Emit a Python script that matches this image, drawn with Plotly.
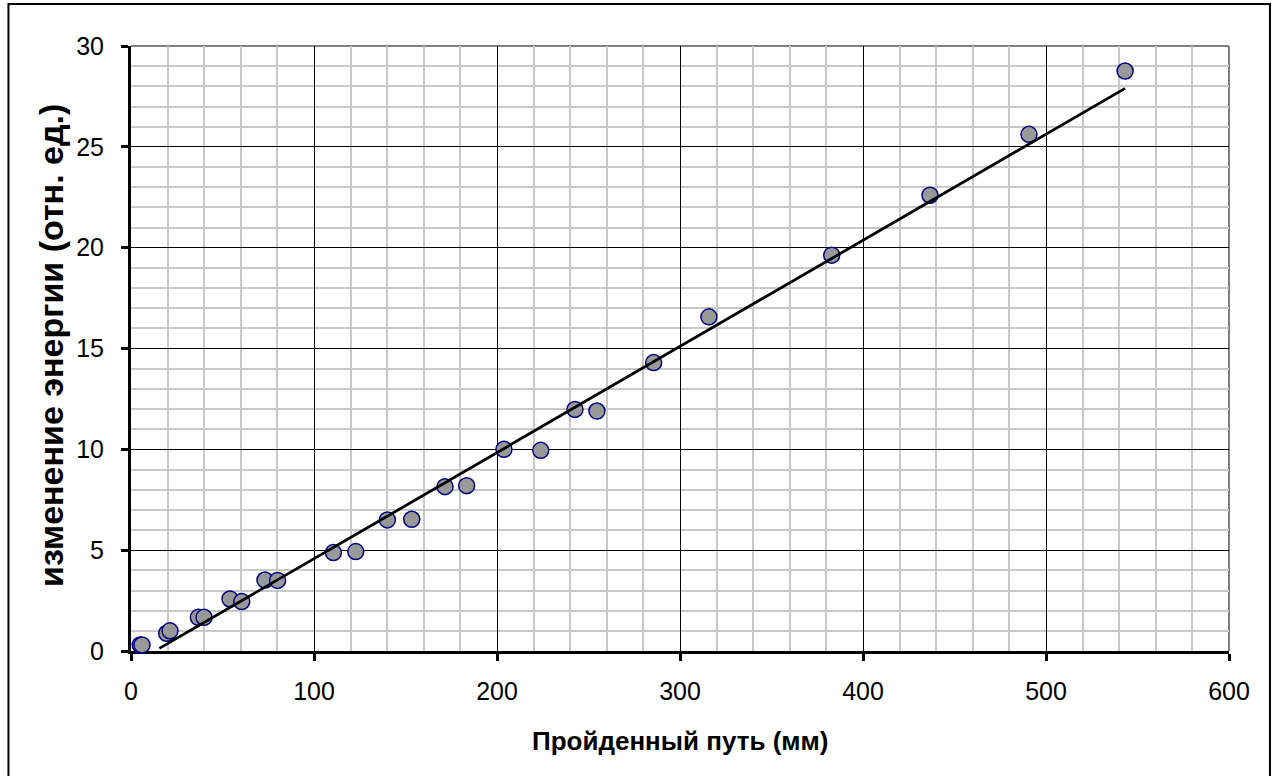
import plotly.graph_objects as go

# Data points (distance mm, energy change rel. units)
path_mm = [5.0, 6.0, 19.5, 21.3, 36.8, 39.9, 54.1, 60.5, 73.2, 80.1,
           110.6, 122.8, 140.1, 153.4, 171.6, 183.4, 203.8, 223.9,
           242.6, 254.6, 285.6, 315.8, 382.9, 436.6, 490.7, 543.2]
energy = [0.3, 0.3, 0.88, 1.0, 1.67, 1.67, 2.58, 2.45, 3.52, 3.5,
          4.88, 4.93, 6.5, 6.53, 8.15, 8.2, 10.0, 9.95,
          11.98, 11.9, 14.3, 16.57, 19.63, 22.6, 25.62, 28.76]

# Linear trend line endpoints
fit_x = [15.5, 543.2]
fit_y = [0.13, 27.9]

x_title = "Пройденный путь (мм)"
y_title = "изменение энергии (отн. ед.)"

FONT = "Liberation Sans, Arial, sans-serif"

fig = go.Figure()
fig.add_trace(go.Scatter(
    x=path_mm, y=energy, mode="markers",
    marker=dict(size=16, color="#999999", line=dict(color="#000080", width=1.5)),
    showlegend=False, cliponaxis=False,
))
fig.add_trace(go.Scatter(
    x=fit_x, y=fit_y, mode="lines",
    line=dict(color="black", width=2.8),
    showlegend=False,
))

axis_common = dict(
    showline=True, linecolor="black", linewidth=3,
    ticks="outside", ticklen=7, tickwidth=3, tickcolor="black",
    showgrid=True, gridcolor="black", gridwidth=1,
    zeroline=False,
    tickfont=dict(size=25),
    layer="below traces",
)

fig.update_layout(
    width=1278, height=776,
    margin=dict(l=131, r=49, t=46, b=125),
    paper_bgcolor="white", plot_bgcolor="white",
    font=dict(family=FONT, size=25, color="black"),
    xaxis=dict(
        range=[0, 600], dtick=100, tick0=0,
        minor=dict(dtick=20, showgrid=True, gridcolor="#c8c8c8", gridwidth=1.5, ticks=""),
        ticklabelstandoff=9,
        **axis_common,
    ),
    yaxis=dict(
        range=[0, 30], dtick=5, tick0=0,
        minor=dict(dtick=1, showgrid=True, gridcolor="#c8c8c8", gridwidth=1.5, ticks=""),
        ticklabelstandoff=12,
        **axis_common,
    ),
    annotations=[
        dict(text="<b>" + x_title + "</b>", xref="paper", yref="paper",
             x=0.5, y=-0.1488, xanchor="center", yanchor="middle",
             showarrow=False, font=dict(size=26)),
        dict(text="<b>" + y_title + "</b>", xref="paper", yref="paper",
             x=-0.0729, y=0.5058, xanchor="center", yanchor="middle",
             textangle=-90, showarrow=False, font=dict(size=34)),
    ],
    shapes=[
        dict(type="line", xref="paper", yref="paper", x0=0, x1=1, y0=1, y1=1,
             line=dict(color="#808080", width=2), layer="below"),
        dict(type="line", xref="paper", yref="paper", x0=1, x1=1, y0=0, y1=1,
             line=dict(color="#808080", width=2), layer="below"),
        dict(type="rect", xref="paper", yref="paper",
             x0=-0.1116, x1=1.0373, y0=-0.25, y1=1.0694,
             line=dict(color="black", width=2), fillcolor="rgba(0,0,0,0)"),
    ],
)

fig.write_html(
    "out.html",
    config={"displayModeBar": False},
    post_script="document.body.style.margin='0';document.body.style.overflow='hidden';",
)
